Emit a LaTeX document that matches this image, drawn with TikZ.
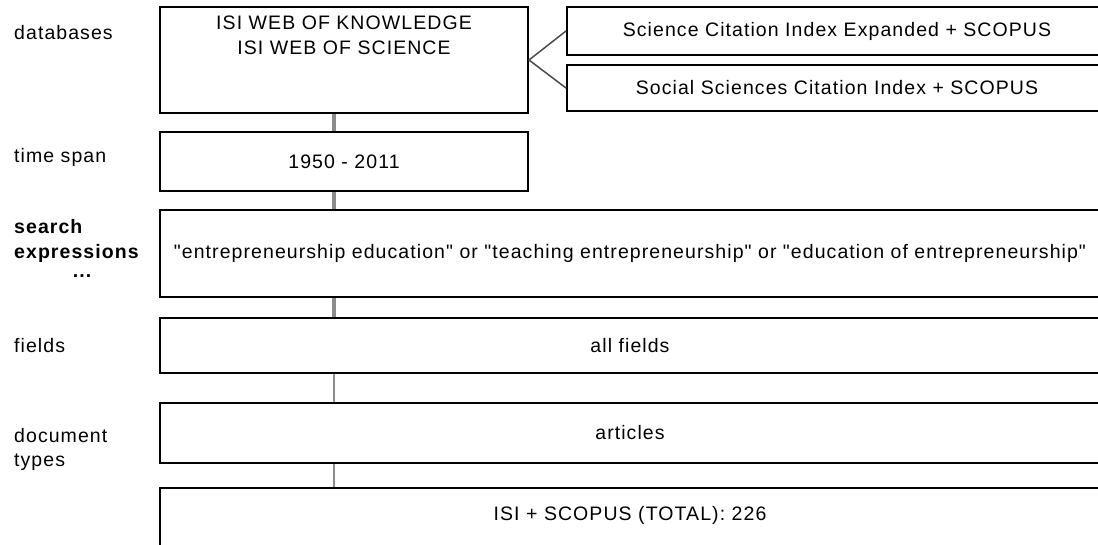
\documentclass[tikz,border=0pt]{standalone}
\usepackage{fontspec}
\newfontfamily\rf{Liberation Sans}[LetterSpace=5.5]
\begin{document}
\begin{tikzpicture}[x=1pt,y=-1pt,
  box/.style={draw=black,line width=2pt,fill=white,inner sep=0pt},
  lbl/.style={anchor=west,inner sep=0pt,font=\rf\fontsize{19.5}{22}\selectfont},
  txt/.style={inner sep=0pt,font=\rf\fontsize{19.5}{25}\selectfont,align=center},
  conn/.style={draw=gray!90,line width=3.5pt},
  connthin/.style={draw=gray!90,line width=2pt},
  fan/.style={draw=black!70,line width=1.5pt}]
\useasboundingbox (0,0) rectangle (1098,545);
\fill[white] (0,0) rectangle (1098,545);
% boxes
\node[box,minimum width=368pt,minimum height=106pt] (isi) at (344,60) {};
\node[txt] (isitxt) at (344,35) {ISI WEB OF KNOWLEDGE\\ISI WEB OF SCIENCE};
\node[box,minimum width=368pt,minimum height=59pt,txt] (time) at (344,161.5) {1950 - 2011};
\node[box,minimum width=540pt,minimum height=48pt,txt] (scie) at (837,31) {Science Citation Index Expanded + SCOPUS};
\node[box,minimum width=540pt,minimum height=46pt,txt] (ssci) at (837,88) {Social Sciences Citation Index + SCOPUS};
\node[box,minimum width=940pt,minimum height=87pt,txt] (search) at (630,253.5) {"entrepreneurship education" or "teaching entrepreneurship" or "education of entrepreneurship"};
\node[box,minimum width=940pt,minimum height=55pt,txt] (fields) at (630,345.5) {all fields};
\node[box,minimum width=940pt,minimum height=60pt,txt] (articles) at (630,433) {articles};
\node[box,minimum width=940pt,minimum height=62pt,txt] (total) at (630,519) {};
\node[txt] (totaltxt) at (630,515) {ISI + SCOPUS (TOTAL): 226};
% labels
\node[lbl] (l1) at (14,33) {databases};
\node[lbl] (l2) at (14,157) {time span};
\node[lbl] (l3a) at (14,227) {\bfseries search};
\node[lbl] (l3b) at (14,253) {\bfseries expressions};
\node[txt] (l3c) at (82,276) {\bfseries ...};
\node[lbl] (l4) at (14,346) {fields};
\node[lbl] (l5a) at (14,436) {document};
\node[lbl] (l5b) at (14,462) {types};
% connectors
\coordinate (cx) at (334,0);
\draw[conn] (isi.south -| cx) -- (time.north -| cx);
\draw[conn] (time.south -| cx) -- (search.north -| cx);
\draw[conn] (search.south -| cx) -- (fields.north -| cx);
\draw[connthin] (fields.south -| cx) -- (articles.north -| cx);
\draw[connthin] (articles.south -| cx) -- (total.north -| cx);
\draw[fan] (scie.west) -- (isi.east) -- (ssci.west);
\end{tikzpicture}
\end{document}
